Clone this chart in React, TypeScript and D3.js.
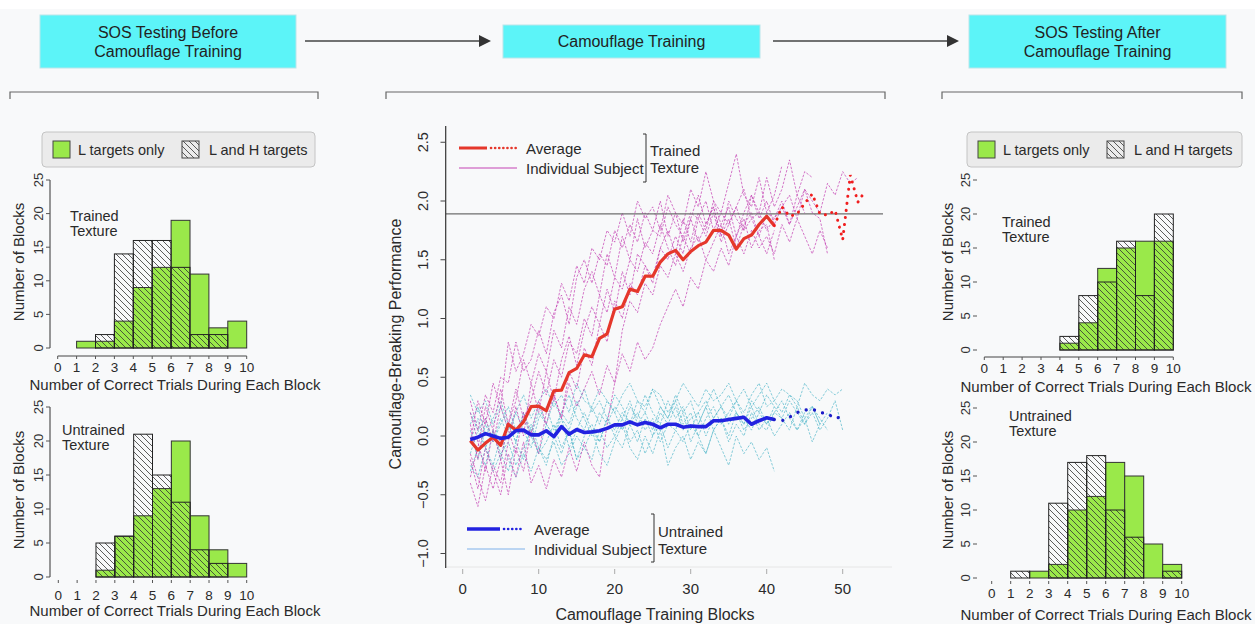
import * as d3 from 'd3';

// ---- histogram data (bins 0-1 ... 9-10 correct trials) ----
const BINS = [0, 1, 2, 3, 4, 5, 6, 7, 8, 9];
const PRE_TRAINED_L = [0, 1, 1, 4, 9, 12, 19, 11, 3, 4];
const PRE_TRAINED_LH = [0, 0, 2, 14, 16, 16, 12, 2, 2, 0];
const PRE_UNTRAINED_L = [0, 0, 1, 6, 9, 13, 20, 9, 4, 2];
const PRE_UNTRAINED_LH = [0, 0, 5, 6, 21, 15, 11, 4, 2, 0];
const POST_TRAINED_L = [0, 0, 0, 0, 1, 4, 12, 15, 16, 16];
const POST_TRAINED_LH = [0, 0, 0, 0, 2, 8, 10, 16, 8, 20];
const POST_UNTRAINED_L = [0, 0, 1, 2, 10, 12, 17, 15, 5, 2];
const POST_UNTRAINED_LH = [0, 1, 0, 11, 17, 18, 10, 6, 0, 1];
const HIST_Y_TICKS = [0, 5, 10, 15, 20, 25];
const HIST_X_TICKS = [0, 1, 2, 3, 4, 5, 6, 7, 8, 9, 10];

// ---- training curves ----
const AVG_TRAINED = [-0.04, -0.12, -0.06, -0.01, -0.08, 0.1, 0.05, 0.12, 0.25, 0.255, 0.215, 0.385, 0.39, 0.54, 0.575, 0.69, 0.675, 0.83, 0.87, 1.08, 1.1, 1.25, 1.23, 1.36, 1.36, 1.48, 1.55, 1.58, 1.5, 1.57, 1.62, 1.65, 1.75, 1.75, 1.71, 1.59, 1.68, 1.71, 1.8, 1.87, 1.79];
const AVG_TRAINED_TAIL = [1.79, 1.95, 1.87, 1.89, 1.98, 2.06, 1.89, 1.88, 1.92, 1.67, 2.22, 1.99, 2.09];
const AVG_UNTRAINED = [-0.03, -0.01, 0.02, 0.0, -0.02, -0.01, 0.045, 0.05, 0.01, 0.01, 0.045, -0.005, 0.08, 0.015, 0.055, 0.03, 0.035, 0.045, 0.065, 0.095, 0.095, 0.12, 0.095, 0.115, 0.1, 0.07, 0.1, 0.1, 0.075, 0.085, 0.08, 0.08, 0.13, 0.13, 0.14, 0.15, 0.16, 0.1, 0.13, 0.155, 0.14];
const AVG_UNTRAINED_TAIL = [0.14, 0.13, 0.16, 0.2, 0.22, 0.23, 0.2, 0.19, 0.15, 0.165];

const TRAINED_SUBJECTS = [
  [0.3, 0.05, 0.35, 0.2, 0.5, 0.45, 0.8, 0.55, 0.65, 0.9, 0.7, 1.05, 1.2, 0.95, 1.35, 1.5, 1.3, 1.55, 1.45, 1.75, 1.6, 1.8, 1.65, 1.9, 1.75, 1.7, 1.95, 1.8, 1.7, 1.9, 1.85, 2.0, 1.75, 1.9, 1.8, 1.95, 2.1, 1.85, 1.9, 1.75, 1.85, 1.95, 1.8, 2.05, 1.9],
  [-0.35, -0.1, 0.25, 0.05, 0.4, 0.1, 0.3, 0.65, 0.45, 0.7, 0.55, 0.9, 0.75, 1.1, 0.95, 1.25, 1.4, 1.2, 1.55, 1.35, 1.7, 1.5, 1.85, 1.6, 1.75, 2.0, 1.7, 1.9, 1.65, 1.85, 2.05, 1.8, 1.95, 1.7, 2.0, 1.85, 1.75, 2.05, 1.9, 2.2, 1.95, 2.1, 2.35, 2.05, 2.25, 2.2],
  [-0.2, -0.45, -0.1, -0.3, -0.5, -0.15, -0.35, -0.05, -0.4, -0.25, -0.45, -0.2, -0.35, -0.1, -0.3, -0.05, -0.25, -0.35, 0.1, 0.45, 0.9, 1.15, 1.05, 1.3, 1.2, 1.45, 1.35, 1.55, 1.4, 1.6, 1.7, 1.5, 1.65, 1.8, 1.55, 1.7, 1.85, 1.6, 1.75, 1.8, 1.5],
  [0.1, -0.2, 0.15, -0.05, 0.25, 0.05, -0.15, 0.2, 0.0, 0.3, 0.1, 0.35, 0.15, 0.45, 0.25, 0.4, 0.55, 0.35, 0.6, 0.45, 0.7, 0.55, 0.8, 0.65, 0.75, 0.95, 1.1, 1.25, 1.1, 1.35, 1.25, 1.5, 1.4, 1.6, 1.45, 1.7, 1.55, 1.75, 1.6, 1.7, 1.55, 1.8, 1.65, 1.85, 1.7, 1.55, 1.75, 1.6],
  [-0.05, 0.3, 0.1, 0.45, 0.25, 0.8, 0.55, 0.7, 0.95, 0.85, 1.1, 1.0, 1.3, 1.15, 1.45, 1.3, 1.6, 1.5, 1.75, 1.65, 1.9, 1.7, 2.0, 1.85, 1.95, 1.75, 2.05, 1.9, 1.8, 2.1, 1.95, 2.25, 2.0, 1.9, 2.15, 2.4, 2.05, 1.95, 2.2, 1.9, 2.05, 2.3],
  [-0.4, -0.6, -0.25, -0.45, -0.2, -0.5, -0.1, -0.3, 0.05, -0.15, 0.2, 0.35, 0.15, 0.55, 0.4, 0.75, 0.6, 0.95, 0.8, 1.15, 1.0, 1.3, 1.2, 1.45, 1.35, 1.6, 1.5, 1.7, 1.55, 1.85, 1.65, 1.8, 1.95, 1.7, 1.85, 1.6, 1.8, 1.9, 1.7, 1.55, 1.75],
  [0.2, -0.05, -0.3, 0.05, -0.2, 0.1, 0.4, 0.15, 0.3, 0.55, 0.35, 0.65, 0.5, 0.8, 0.7, 1.0, 0.85, 1.2, 1.05, 1.35, 1.25, 1.5, 1.4, 1.65, 1.55, 1.8, 1.6, 1.45, 1.7, 1.55, 1.85, 1.7, 1.9, 1.65, 1.8, 1.95, 1.75, 1.85, 1.7, 1.9, 1.85, 2.0, 1.8, 1.95, 2.1, 1.9, 1.85, 1.55],
  [-0.15, -0.35, -0.55, -0.25, -0.4, -0.05, 0.25, 0.0, 0.45, 0.2, 0.55, 0.3, 0.65, 0.85, 0.6, 0.9, 1.1, 0.95, 1.25, 1.05, 1.4, 1.2, 1.55, 1.45, 1.3, 1.6, 1.75, 1.55, 1.85, 1.65, 1.9, 1.75, 2.0, 1.8, 1.95, 1.7, 1.9, 2.05, 1.85, 2.0, 1.8, 1.95, 2.05, 1.85, 2.1, 2.0, 1.9, 2.15, 2.05, 2.25, 2.15, 2.2],
];

const UNTRAINED_SUBJECTS = [
  [0.35, 0.2, 0.3, 0.1, 0.25, 0.05, 0.2, 0.35, 0.15, 0.3, 0.4, 0.25, 0.35, 0.2, 0.45, 0.3, 0.25, 0.4, 0.3, 0.2, 0.35, 0.45, 0.3, 0.25, 0.4, 0.35, 0.2, 0.3, 0.45, 0.35, 0.25, 0.4, 0.3, 0.35, 0.45, 0.3, 0.4, 0.25, 0.35, 0.45, 0.3, 0.4, 0.35, 0.25, 0.45, 0.35, 0.3, 0.4, 0.35, 0.4],
  [-0.3, -0.1, -0.25, 0.05, -0.15, -0.3, -0.05, -0.2, 0.1, -0.1, -0.25, 0.0, -0.15, 0.05, -0.2, -0.1, 0.05, -0.15, -0.25, -0.05, 0.1, -0.1, -0.2, 0.0, -0.15, 0.05, -0.25, -0.1, 0.0, -0.2, -0.05, -0.15, 0.05, -0.1, -0.25, 0.0, -0.15, -0.05, -0.2, -0.1, -0.3],
  [0.1, 0.25, 0.0, 0.15, 0.3, 0.1, -0.05, 0.2, 0.05, 0.25, 0.1, 0.0, 0.2, 0.35, 0.15, 0.05, 0.25, 0.1, 0.3, 0.2, 0.05, 0.25, 0.15, 0.35, 0.2, 0.1, 0.3, 0.15, 0.25, 0.05, 0.2, 0.3, 0.15, 0.25, 0.35, 0.2, 0.1, 0.3, 0.2, 0.35, 0.25, 0.15, 0.3, 0.2, 0.1, 0.25, 0.15, 0.05],
  [-0.15, 0.05, -0.1, -0.25, 0.0, -0.2, -0.35, -0.15, -0.3, -0.1, -0.2, -0.05, -0.25, -0.15, 0.0, -0.1, -0.2, 0.05, -0.1, 0.0, 0.15, -0.05, 0.05, -0.15, 0.0, 0.1, -0.1, 0.05, -0.05, 0.1, 0.0, -0.15, 0.05, 0.15, -0.05, 0.1, 0.0, 0.2, 0.05, 0.15, 0.0, 0.1, 0.2, 0.05, 0.15, -0.05, 0.1],
  [0.2, 0.05, 0.15, -0.05, 0.1, 0.25, 0.05, 0.15, 0.0, 0.2, 0.1, 0.3, 0.15, 0.05, 0.25, 0.4, 0.2, 0.3, 0.15, 0.35, 0.25, 0.1, 0.3, 0.2, 0.4, 0.25, 0.15, 0.35, 0.2, 0.3, 0.1, 0.25, 0.4, 0.25, 0.15, 0.3, 0.2, 0.35, 0.45, 0.25, 0.3, 0.2, 0.35, 0.3, 0.15, 0.25, 0.1, 0.2],
  [-0.25, -0.35, -0.1, -0.3, -0.15, -0.05, -0.25, -0.1, 0.05, -0.15, -0.05, 0.1, -0.1, 0.05, -0.2, 0.0, 0.1, -0.05, 0.15, 0.0, -0.1, 0.1, 0.2, 0.05, 0.15, -0.05, 0.1, 0.25, 0.05, 0.15, 0.2, 0.0, 0.15, 0.25, 0.1, 0.2, 0.05, 0.15, 0.25, 0.1, 0.2, 0.3, 0.15, 0.05, 0.2, 0.25, 0.1],
  [0.05, -0.2, 0.1, -0.05, 0.15, 0.0, 0.2, 0.05, -0.1, 0.15, 0.25, 0.05, 0.2, 0.1, 0.3, 0.15, 0.0, 0.2, 0.1, 0.25, 0.15, 0.3, 0.1, 0.2, 0.05, 0.25, 0.15, 0.3, 0.1, 0.2, 0.0, 0.15, 0.25, 0.1, 0.2, 0.3, 0.15, 0.05, 0.2, 0.1, 0.25],
  [-0.05, 0.15, -0.1, 0.05, -0.2, 0.1, -0.05, 0.2, 0.0, -0.15, 0.1, 0.0, 0.15, -0.1, 0.05, 0.2, 0.05, -0.05, 0.15, 0.05, 0.2, 0.1, -0.05, 0.15, 0.0, 0.2, 0.1, 0.05, 0.2, -0.05, 0.1, 0.25, 0.05, 0.15, 0.0, 0.2, 0.1, 0.25, 0.1, 0.05, 0.2, 0.15, 0.05, 0.25, 0.1, 0.2, 0.05, 0.15, 0.3, 0.05],
];

const PERF_TICKS = [-1.0, -0.5, 0.0, 0.5, 1.0, 1.5, 2.0, 2.5];
const BLOCK_TICKS = [0, 10, 20, 30, 40, 50];
const CRITERION = 1.89;

const FONT = 'Liberation Sans, Arial, Helvetica, sans-serif';
const NARROW = 'Liberation Sans Narrow, Liberation Sans, Arial, sans-serif';
const GREEN = '#9ae94a';
const INK = '#2a2a2a';

type HistProps = {
  L: number[];
  LH: number[];
  x0: number;
  x1: number;
  yBase: number;
  yTop: number;
  axisX: number;
  yAxisLine: boolean;
  xAxisY: number;
  xAxisLine: boolean;
  tickLabelY: number;
  xLabelX: number;
  xLabelY: number;
  yLabelX: number;
  yLabelY: number;
  title: string[];
  titleX: number;
  titleY: number;
};

const Histogram = (p: HistProps) => {
  const x = d3.scaleLinear().domain([0, 10]).range([p.x0, p.x1]);
  const y = d3.scaleLinear().domain([0, 25]).range([p.yBase, p.yTop]);
  return (
    <g fontFamily={FONT} fill={INK}>
      {BINS.map((b, i) => (
        <rect key={'g' + i} x={x(b)} y={y(p.L[i])} width={x(b + 1) - x(b)} height={p.yBase - y(p.L[i])}
          fill={GREEN} stroke="#333" strokeWidth={1} />
      ))}
      {BINS.map((b, i) => (
        <rect key={'h' + i} x={x(b)} y={y(p.LH[i])} width={x(b + 1) - x(b)} height={p.yBase - y(p.LH[i])}
          fill="url(#hatch)" stroke="#222" strokeWidth={1} />
      ))}
      {p.yAxisLine && <line x1={p.axisX} x2={p.axisX} y1={y(0)} y2={y(25)} stroke="#333" />}
      {HIST_Y_TICKS.map((t) => (
        <g key={'yt' + t}>
          <line x1={p.axisX - 4} x2={p.axisX} y1={y(t)} y2={y(t)} stroke="#555" />
          <text transform={`translate(${p.axisX - 12},${y(t)}) rotate(-90)`} textAnchor="middle"
            dominantBaseline="central" fontSize={13} fill="#333">{t}</text>
        </g>
      ))}
      {p.xAxisLine && <line x1={x(0)} x2={x(10)} y1={p.xAxisY} y2={p.xAxisY} stroke="#444" />}
      {HIST_X_TICKS.map((t) => (
        <g key={'xt' + t}>
          <line x1={x(t)} x2={x(t)} y1={p.xAxisY} y2={p.xAxisY + 3} stroke="#555" />
          <text x={x(t)} y={p.tickLabelY} textAnchor="middle" dominantBaseline="central" fontSize={13.5}>{t}</text>
        </g>
      ))}
      <text x={p.xLabelX} y={p.xLabelY} textAnchor="middle" dominantBaseline="central" fontSize={15}>
        Number of Correct Trials During Each Block
      </text>
      <text transform={`translate(${p.yLabelX},${p.yLabelY}) rotate(-90)`} textAnchor="middle"
        dominantBaseline="central" fontSize={15}>Number of Blocks</text>
      {p.title.map((s, i) => (
        <text key={s} x={p.titleX} y={p.titleY + i * 15} dominantBaseline="central" fontSize={14.5}>{s}</text>
      ))}
    </g>
  );
};

const HistLegend = ({ x, w }: { x: number; w: number }) => (
  <g fontFamily={FONT} fontSize={14.5} fill={INK}>
    <rect x={x} y={132} width={w} height={35} rx={4} fill="#ebebeb" stroke="#c4c4c4" />
    <rect x={x + 11} y={141} width={17} height={17} fill={GREEN} stroke="#444" />
    <text x={x + 36} y={150} dominantBaseline="central">L targets only</text>
    <rect x={x + 140} y={141} width={17} height={17} fill="url(#hatch)" stroke="#444" />
    <text x={x + 167} y={150} dominantBaseline="central">L and H targets</text>
  </g>
);

const FlowBox = ({ x, y, w, h, lines }: { x: number; y: number; w: number; h: number; lines: string[] }) => (
  <g fontFamily={NARROW} fontSize={16} fill="#222">
    <rect x={x} y={y} width={w} height={h} fill="#5cf4f8" stroke="#b8e6ea" strokeWidth={1} />
    {lines.map((s, i) => (
      <text key={s} x={x + w / 2} y={y + h / 2 + (i - (lines.length - 1) / 2) * 19} textAnchor="middle"
        dominantBaseline="central">{s}</text>
    ))}
  </g>
);

const Arrow = ({ x1, x2, y }: { x1: number; x2: number; y: number }) => (
  <g>
    <line x1={x1} x2={x2 - 10} y1={y} y2={y} stroke="#444" strokeWidth={1.6} />
    <path d={`M${x2},${y} L${x2 - 12},${y - 6} L${x2 - 12},${y + 6} Z`} fill="#333" />
  </g>
);

const Bracket = ({ x1, x2 }: { x1: number; x2: number }) => (
  <path d={`M${x1},${99} V${92} H${x2} V${99}`} fill="none" stroke="#666" strokeWidth={1.2} />
);

const TrainingPlot = () => {
  const x = d3.scaleLinear().domain([0, 50]).range([462.7, 842.7]);
  const y = d3.scaleLinear().domain([0, 2.5]).range([436, 142.25]);
  const line = (start: number) =>
    d3.line<number>().x((_, i) => x(start + i)).y((d) => y(d));
  const subjLine = line(1);
  const avgLine = line(1);
  const tail = line(41);
  return (
    <g fontFamily={FONT} fill={INK}>
      <defs>
        <clipPath id="plotclip">
          <rect x={446} y={110} width={450} height={458} />
        </clipPath>
      </defs>
      <line x1={445.7} x2={892} y1={567} y2={567} stroke="#e6e6e6" />
      <g clipPath="url(#plotclip)">
        {UNTRAINED_SUBJECTS.map((s, i) => (
          <path key={'u' + i} d={subjLine(s) ?? ''} fill="none" stroke="#58b9cc" strokeWidth={0.9}
            strokeDasharray="2.5,1.5" opacity={0.8} />
        ))}
        {TRAINED_SUBJECTS.map((s, i) => (
          <path key={'t' + i} d={subjLine(s) ?? ''} fill="none" stroke="#c443b4" strokeWidth={0.9}
            strokeDasharray="2.5,1.5" opacity={0.8} />
        ))}
        <line x1={445.7} x2={883} y1={y(CRITERION)} y2={y(CRITERION)} stroke="#6e6e6e" strokeWidth={1.3} />
        <path d={avgLine(AVG_TRAINED) ?? ''} fill="none" stroke="#e5372b" strokeWidth={3.2} strokeLinejoin="round" />
        <path d={tail(AVG_TRAINED_TAIL) ?? ''} fill="none" stroke="#f01e1e" strokeWidth={3}
          strokeDasharray="0.1,7" strokeLinecap="round" />
        <path d={avgLine(AVG_UNTRAINED) ?? ''} fill="none" stroke="#2222e0" strokeWidth={3.6} strokeLinejoin="round" />
        <path d={tail(AVG_UNTRAINED_TAIL) ?? ''} fill="none" stroke="#1c1cc8" strokeWidth={3.2}
          strokeDasharray="0.1,8.5" strokeLinecap="round" />
      </g>
      {/* y axis */}
      <line x1={445.7} x2={445.7} y1={126} y2={568} stroke="#333" strokeWidth={1.2} />
      {PERF_TICKS.map((t) => (
        <g key={'py' + t}>
          <line x1={440.5} x2={445.7} y1={y(t)} y2={y(t)} stroke="#444" />
          <text transform={`translate(${423},${y(t)}) rotate(-90)`} textAnchor="middle" dominantBaseline="central"
            fontSize={14.5}>{t === 0 ? '0.0' : d3.format('.1f')(t).replace('-', '\u2212')}</text>
        </g>
      ))}
      <text transform="translate(395,344) rotate(-90)" textAnchor="middle" dominantBaseline="central" fontSize={16}>
        Camouflage-Breaking Performance
      </text>
      {/* x axis */}
      {BLOCK_TICKS.map((t) => (
        <g key={'px' + t}>
          <line x1={x(t)} x2={x(t)} y1={569} y2={574} stroke="#aaa" />
          <text x={x(t)} y={588} textAnchor="middle" dominantBaseline="central" fontSize={15}>{t}</text>
        </g>
      ))}
      <text x={655} y={614} textAnchor="middle" dominantBaseline="central" fontSize={16}>Camouflage Training Blocks</text>

      {/* trained legend */}
      <line x1={459} x2={487} y1={148} y2={148} stroke="#e5372b" strokeWidth={3} />
      <line x1={491} x2={516} y1={148} y2={148} stroke="#e5372b" strokeWidth={2.6} strokeDasharray="0.1,4" strokeLinecap="round" />
      <text x={526} y={148} dominantBaseline="central" fontSize={15}>Average</text>
      <line x1={459} x2={517} y1={168} y2={168} stroke="#c443b4" strokeWidth={1} />
      <text x={526} y={168} dominantBaseline="central" fontSize={15}>Individual Subject</text>
      <path d="M643,134 H646 V182 H643" fill="none" stroke="#333" strokeWidth={1} />
      <text x={650} y={150} dominantBaseline="central" fontSize={15}>Trained</text>
      <text x={650} y={167} dominantBaseline="central" fontSize={15}>Texture</text>

      {/* untrained legend */}
      <line x1={467} x2={500} y1={529} y2={529} stroke="#2222e0" strokeWidth={3.4} />
      <line x1={504} x2={524} y1={529} y2={529} stroke="#2222e0" strokeWidth={2.6} strokeDasharray="0.1,4" strokeLinecap="round" />
      <text x={534} y={529} dominantBaseline="central" fontSize={15}>Average</text>
      <line x1={467} x2={525} y1={549} y2={549} stroke="#7fb2ea" strokeWidth={1.2} />
      <text x={534} y={549} dominantBaseline="central" fontSize={15}>Individual Subject</text>
      <path d="M651,514 H654 V562 H651" fill="none" stroke="#333" strokeWidth={1} />
      <text x={658} y={531} dominantBaseline="central" fontSize={15}>Untrained</text>
      <text x={658} y={548} dominantBaseline="central" fontSize={15}>Texture</text>
    </g>
  );
};

export default function App() {
  return (
    <svg width={1255} height={624} style={{ position: 'absolute', left: 0, top: 0, display: 'block' }}>
      <defs>
        <pattern id="hatch" patternUnits="userSpaceOnUse" width={6} height={6}>
          <path d="M-1,-1 L7,7 M-1,5 L1,7 M5,-1 L7,1" stroke="#333" strokeWidth={0.8} />
        </pattern>
      </defs>
      <rect x={0} y={0} width={1255} height={624} fill="#f8f9fa" />
      <rect x={0} y={0} width={1255} height={9} fill="#ffffff" />

      <FlowBox x={40} y={15} w={256} h={53} lines={['SOS Testing Before', 'Camouflage Training']} />
      <FlowBox x={503} y={25} w={257} h={33} lines={['Camouflage Training']} />
      <FlowBox x={969} y={15} w={257} h={53} lines={['SOS Testing After', 'Camouflage Training']} />
      <Arrow x1={305} x2={491} y={41} />
      <Arrow x1={773} x2={959} y={41} />
      <Bracket x1={10} x2={318} />
      <Bracket x1={386} x2={885} />
      <Bracket x1={942} x2={1242} />

      <HistLegend x={42} w={273} />
      <HistLegend x={967} w={275} />

      <Histogram L={PRE_TRAINED_L} LH={PRE_TRAINED_LH} x0={57.7} x1={246.7} yBase={348} yTop={180}
        axisX={50} yAxisLine xAxisY={356} xAxisLine tickLabelY={367} xLabelX={175} xLabelY={384}
        yLabelX={18} yLabelY={262} title={['Trained', 'Texture']} titleX={70} titleY={216} />
      <Histogram L={PRE_UNTRAINED_L} LH={PRE_UNTRAINED_LH} x0={58.3} x1={246.7} yBase={577} yTop={407}
        axisX={50} yAxisLine xAxisY={580} xAxisLine={false} tickLabelY={595} xLabelX={175} xLabelY={610}
        yLabelX={18} yLabelY={490} title={['Untrained', 'Texture']} titleX={62} titleY={430} />
      <Histogram L={POST_TRAINED_L} LH={POST_TRAINED_LH} x0={984.3} x1={1173.3} yBase={350} yTop={180}
        axisX={977} yAxisLine={false} xAxisY={357} xAxisLine tickLabelY={368} xLabelX={1106} xLabelY={386}
        yLabelX={947} yLabelY={262} title={['Trained', 'Texture']} titleX={1002} titleY={222} />
      <Histogram L={POST_UNTRAINED_L} LH={POST_UNTRAINED_LH} x0={991.7} x1={1181.7} yBase={578} yTop={408}
        axisX={977} yAxisLine={false} xAxisY={581} xAxisLine={false} tickLabelY={593} xLabelX={1106} xLabelY={614}
        yLabelX={947} yLabelY={490} title={['Untrained', 'Texture']} titleX={1009} titleY={416} />

      <TrainingPlot />
    </svg>
  );
}
